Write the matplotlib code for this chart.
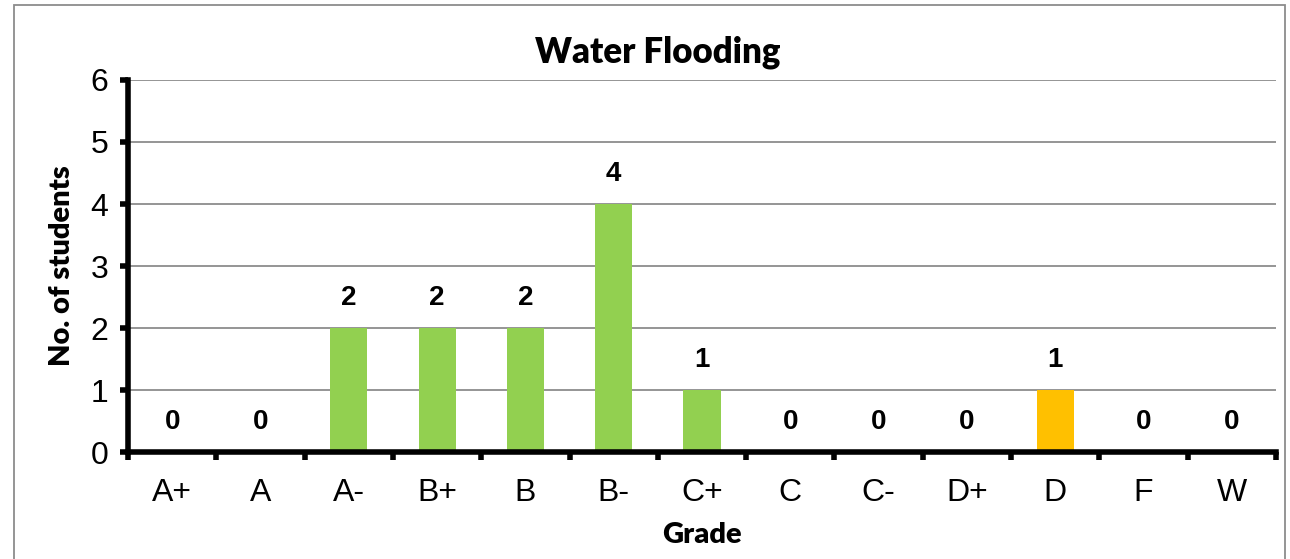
import matplotlib.pyplot as plt
from matplotlib.patches import Rectangle

grades = ['A+', 'A', 'A-', 'B+', 'B', 'B-', 'C+', 'C', 'C-', 'D+', 'D', 'F', 'W']
students = [0, 0, 2, 2, 2, 4, 1, 0, 0, 0, 1, 0, 0]
bar_colors = ['#92D050'] * 10 + ['#FFC000'] + ['#92D050'] * 2

fig = plt.figure(figsize=(12.9, 5.59), dpi=100)
ax = fig.add_axes([128 / 1290, 107 / 559, (1276 - 128) / 1290, (452 - 80) / 559])

# chart border like the spreadsheet export
fig.patches.append(Rectangle((14 / 1290, -0.01), (1285 - 14) / 1290, (554 - 0) / 559 + 0.01,
                             transform=fig.transFigure, fill=False,
                             edgecolor='#8c8c8c', linewidth=1.3))

x = list(range(len(grades)))
ax.bar(x, students, width=0.42, color=bar_colors, zorder=3)

for xi, v in zip(x, students):
    ax.annotate(str(v), (xi, v), xytext=(0, 12), textcoords='offset points',
                ha='center', va='bottom', fontsize=20, fontweight='bold',
                family='Liberation Sans')

ax.set_xlim(-0.5, len(grades) - 0.5)
ax.set_ylim(0, 6)
ax.set_yticks(range(7))
ax.yaxis.grid(True, color='#8c8c8c', linewidth=1.3, zorder=0)
ax.set_axisbelow(True)

# category labels centred, ticks between categories
ax.set_xticks(x)
ax.set_xticklabels(grades, family='Liberation Sans', fontsize=23)
ax.set_xticks([i - 0.5 for i in range(len(grades) + 1)], minor=True)
ax.tick_params(axis='x', which='major', length=0, pad=19)
ax.tick_params(axis='x', which='minor', length=6, width=4, direction='out')
ax.tick_params(axis='y', length=6, width=4, direction='out', pad=8, labelsize=23)
for lab in ax.get_yticklabels():
    lab.set_family('Liberation Sans')

for side in ['top', 'right']:
    ax.spines[side].set_visible(False)
for side in ['left', 'bottom']:
    ax.spines[side].set_linewidth(4)
    ax.spines[side].set_zorder(5)

ax.set_xlabel('Grade', family='Lato', fontweight='heavy', fontsize=21)
ax.xaxis.set_label_coords(0.5, (452 - 535) / 372)
ax.xaxis.label.set_va('center')
ax.set_ylabel('No. of students', family='Lato', fontweight='heavy', fontsize=21)
ax.yaxis.set_label_coords((62 - 128) / 1148, 0.5)
ax.yaxis.label.set_va('center')
fig.text(658 / 1290, 1 - 52 / 559, 'Water Flooding', family='Lato', fontweight='heavy',
         fontsize=25, ha='center', va='center')

fig.savefig('out.png', dpi=100)
